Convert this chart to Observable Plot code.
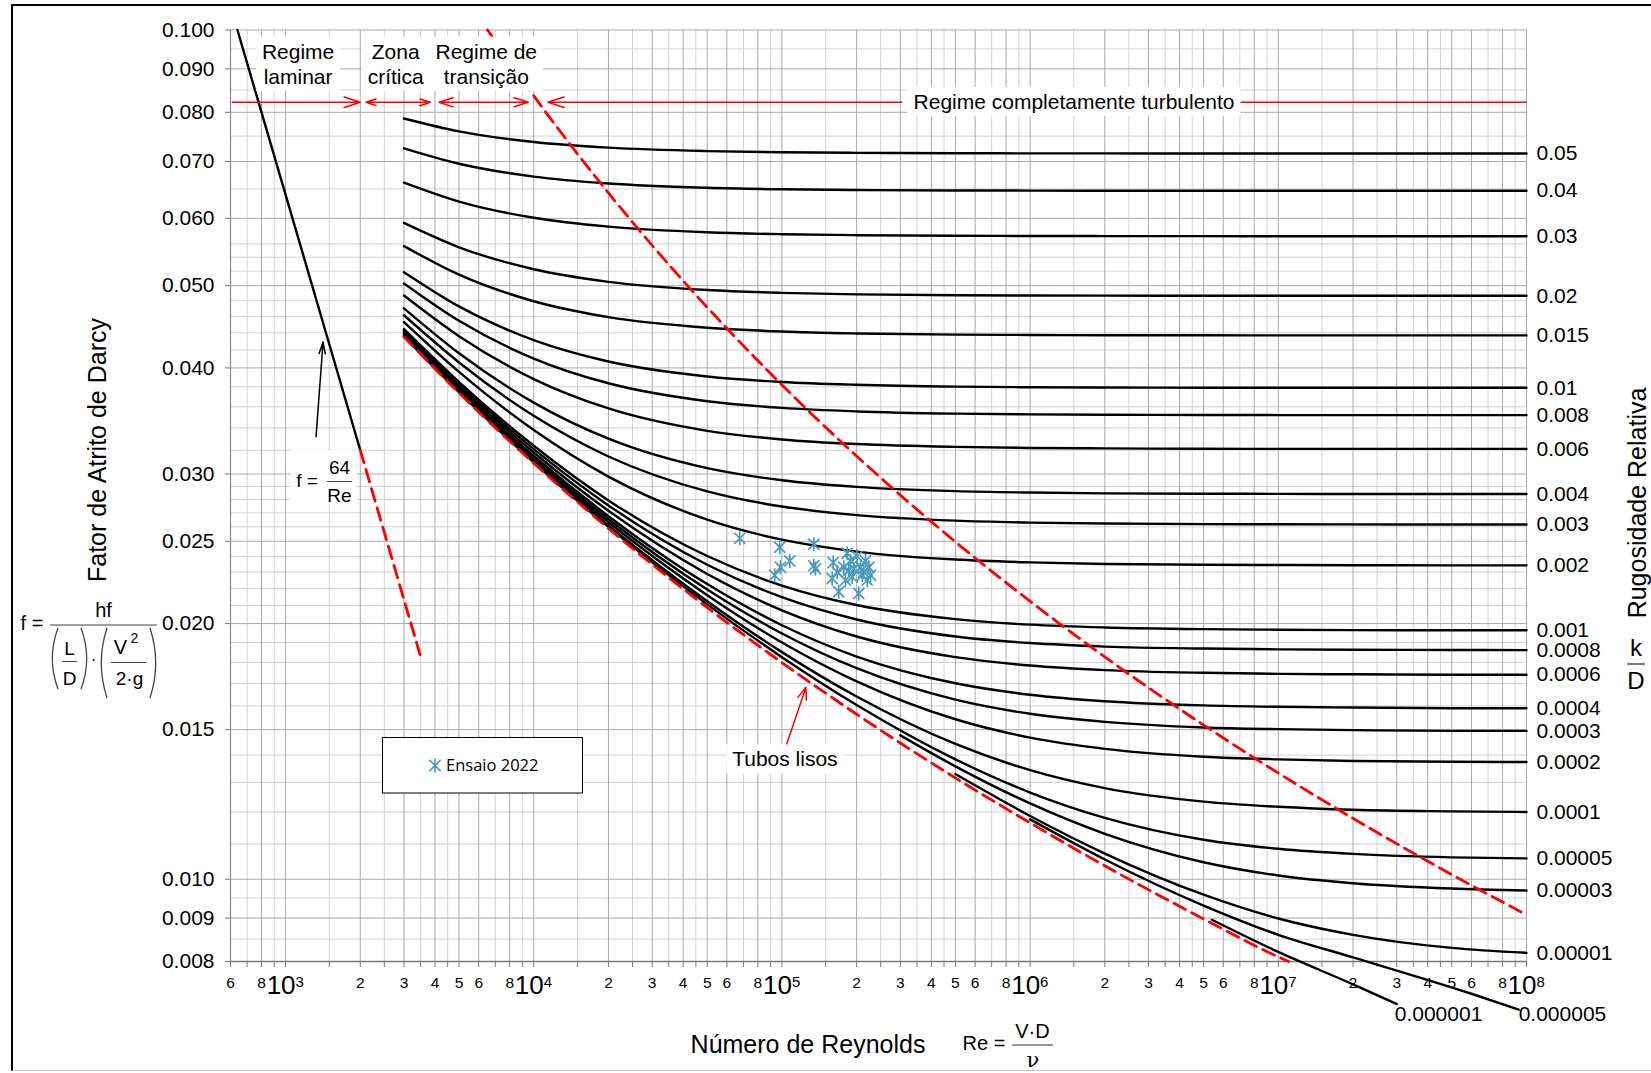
<!DOCTYPE html>
<html><head><meta charset="utf-8">
<script src="https://cdn.jsdelivr.net/npm/d3@7"></script>
<script src="https://cdn.jsdelivr.net/npm/@observablehq/plot@0.6"></script>
<style>
html,body{margin:0;padding:0;background:#fff;}
body{width:1651px;height:1073px;position:relative;overflow:hidden;font-family:'Liberation Sans',Arial,sans-serif;}
#frame{position:absolute;left:11px;top:4px;width:1680px;height:1067px;border-left:2.5px solid #000;border-top:2px solid #000;border-bottom:1.5px solid #c8c8c8;box-sizing:border-box;}
#chart{position:absolute;left:0;top:0;}
</style></head><body>
<div id="frame"></div>
<div id="chart"></div>
<script>
// ---------------- DATA ----------------
const reGrid = [3e3, 5e3, 1e4, 2e4, 5e4, 1e5, 2e5, 5e5, 1e6, 2e6, 5e6, 1e7, 2e7, 5e7, 1e8];

const f_k005    = [0.07866,0.07596,0.07381,0.07269,0.07201,0.07178,0.07167,0.07160,0.07157,0.07156,0.07155,0.07155,0.07155,0.07155,0.07155];
const f_k004    = [0.07255,0.06959,0.06720,0.06595,0.06519,0.06493,0.06480,0.06472,0.06470,0.06468,0.06467,0.06467,0.06467,0.06467,0.06467];
const f_k003    = [0.06611,0.06280,0.06010,0.05867,0.05778,0.05748,0.05733,0.05724,0.05721,0.05719,0.05718,0.05717,0.05717,0.05717,0.05717];
const f_k002    = [0.05927,0.05548,0.05227,0.05052,0.04941,0.04903,0.04883,0.04872,0.04868,0.04866,0.04865,0.04864,0.04864,0.04864,0.04864];
const f_k0015   = [0.05566,0.05151,0.04793,0.04591,0.04461,0.04415,0.04392,0.04378,0.04374,0.04371,0.04370,0.04369,0.04369,0.04369,0.04369];
const f_k001    = [0.05186,0.04726,0.04313,0.04070,0.03908,0.03850,0.03821,0.03802,0.03796,0.03793,0.03791,0.03790,0.03790,0.03790,0.03790];
const f_k0008   = [0.05029,0.04545,0.04103,0.03837,0.03655,0.03589,0.03555,0.03534,0.03527,0.03523,0.03521,0.03520,0.03520,0.03520,0.03520];
const f_k0006   = [0.04868,0.04360,0.03881,0.03584,0.03373,0.03295,0.03254,0.03229,0.03220,0.03216,0.03213,0.03212,0.03212,0.03212,0.03212];
const f_k0004   = [0.04701,0.04162,0.03641,0.03302,0.03048,0.02950,0.02897,0.02864,0.02853,0.02847,0.02844,0.02843,0.02842,0.02842,0.02842];
const f_k0003   = [0.04614,0.04060,0.03513,0.03146,0.02862,0.02747,0.02684,0.02644,0.02630,0.02623,0.02619,0.02618,0.02617,0.02616,0.02616];
const f_k0002   = [0.04529,0.03957,0.03380,0.02979,0.02651,0.02511,0.02431,0.02379,0.02361,0.02351,0.02346,0.02344,0.02343,0.02342,0.02342];
const f_k0001   = [0.04443,0.03850,0.03239,0.02793,0.02402,0.02217,0.02103,0.02024,0.01994,0.01979,0.01970,0.01967,0.01965,0.01964,0.01964];
const f_k00008  = [0.04425,0.03827,0.03209,0.02755,0.02346,0.02148,0.02022,0.01931,0.01897,0.01879,0.01869,0.01865,0.01863,0.01862,0.01861];
const f_k00006  = [0.04408,0.03807,0.03180,0.02715,0.02288,0.02073,0.01931,0.01826,0.01785,0.01763,0.01750,0.01745,0.01743,0.01741,0.01741];
const f_k00004  = [0.04390,0.03784,0.03150,0.02676,0.02226,0.01991,0.01829,0.01701,0.01649,0.01620,0.01602,0.01596,0.01593,0.01590,0.01590];
const f_k00003  = [0.04379,0.03773,0.03135,0.02654,0.02193,0.01947,0.01772,0.01627,0.01566,0.01532,0.01509,0.01502,0.01498,0.01495,0.01495];
const f_k00002  = [0.04370,0.03761,0.03119,0.02632,0.02160,0.01900,0.01710,0.01543,0.01468,0.01424,0.01394,0.01384,0.01378,0.01375,0.01374];
const f_k00001  = [0.04361,0.03751,0.03104,0.02610,0.02125,0.01851,0.01641,0.01443,0.01344,0.01280,0.01234,0.01217,0.01207,0.01202,0.01200];
const f_k000005 = [0.04356,0.03745,0.03096,0.02599,0.02107,0.01826,0.01604,0.01384,0.01265,0.01181,0.01113,0.01086,0.01071,0.01061,0.01058];

const roughLabels = ["0.05","0.04","0.03","0.02","0.015","0.01","0.008","0.006","0.004","0.003","0.002","0.001","0.0008","0.0006","0.0004","0.0003","0.0002","0.0001","0.00005"];
const roughSeries = [f_k005,f_k004,f_k003,f_k002,f_k0015,f_k001,f_k0008,f_k0006,f_k0004,f_k0003,f_k0002,f_k0001,f_k00008,f_k00006,f_k00004,f_k00003,f_k00002,f_k00001,f_k000005];

// curves that only appear once they leave the smooth-pipe line
const re_k000003  = [3e5,5e5,1e6,2e6,5e6,1e7,2e7,5e7,1e8];
const f_k000003   = [0.01477,0.01358,0.01228,0.01131,0.01047,0.01010,0.00989,0.00975,0.00970];
const re_k000001  = [5e5,1e6,2e6,5e6,1e7,2e7,5e7,1e8];
const f_k000001   = [0.01330,0.01187,0.01072,0.00959,0.00899,0.00860,0.00830,0.00819];
const re_k0000005 = [1e6,2e6,5e6,1e7,2e7,6e7,9.3e7];
const f_k0000005  = [0.01176,0.01055,0.00931,0.00860,0.00809,0.00733,0.00702];
const re_k0000001 = [5.4e6,1e7,2e7,3e7];
const f_k0000001  = [0.00896,0.00821,0.00752,0.00713];

// smooth pipes (red dashed)
const reSmooth = [3e3,5e3,1e4,2e4,5e4,1e5,2e5,5e5,1e6,2e6,5e6,1e7,1.1e7];
const fSmooth  = [0.04351,0.03738,0.03089,0.02589,0.02089,0.01799,0.01564,0.01316,0.01165,0.01037,0.00898,0.00810,0.00800];

// laminar f = 64/Re
const reLaminar = [640, 2000];
const fLaminar  = [0.1, 0.032];
const reLaminarExt = [2000, 3500];
const fLaminarExt  = [0.032, 0.01829];

// complete turbulence boundary (red dashed)
const reBoundary = [6516,11190,15860,24280,41630,85470,240400,496800,1312000,5336000,18100000,54050000,100000000];
const fBoundary  = [0.1,0.08,0.07,0.06,0.05,0.04,0.03,0.025,0.02,0.015,0.012,0.01,0.00908];

// test points "Ensaio 2022"
const ensaioRe = [67600,98000,98600,93500,107500,134400,134400,136500,160900,183200,201000,159400,167000,177500,186000,194800,207300,213700,223900,220600,169400,204000,191900,210600,180300,188900,217200,227500];
const ensaioF  = [0.0252,0.0246,0.0233,0.0228,0.0237,0.0248,0.0234,0.0232,0.0236,0.0242,0.0240,0.0226,0.0230,0.0233,0.0231,0.0232,0.0233,0.0230,0.0233,0.0225,0.0218,0.0217,0.0227,0.0228,0.0225,0.0237,0.0237,0.0228];

// regime arrows
const regimeArrowFrom = [610, 2825, 2825, 6280, 6280, 304000];
const regimeArrowTo   = [2000, 2110, 3830, 4150, 9500, 11400];
const regimeLineRe    = [6.65e6, 1e8];
const regimeArrowF    = 0.0822;
const regimeText   = ["Regime\nlaminar", "Zona\ncrítica", "Regime de\ntransição"];
const regimeTextRe = [1123, 2777, 6436];
const regimeTextF  = 0.0914;

// pointers
const lamPointerRe = [1327, 1416];
const lamPointerF  = [0.0332, 0.0429];
const smoothPointerRe = [1.043e5, 1.25e5];
const smoothPointerF  = [0.0144, 0.01683];

// axes
const yMajor = [0.008,0.009,0.010,0.015,0.020,0.025,0.030,0.040,0.050,0.060,0.070,0.080,0.090,0.100];
const yMinor = [0.0085,0.0095,0.011,0.012,0.013,0.014,0.016,0.017,0.018,0.019,0.021,0.022,0.023,0.024,0.026,0.027,0.028,0.029,0.032,0.034,0.036,0.038,0.042,0.044,0.046,0.048,0.052,0.054,0.056,0.065,0.075,0.085,0.095];
const decadeBases = [100, 1e3, 1e4, 1e5, 1e6, 1e7, 1e8];
const gridMultDark  = [1,2,3,4,5,6,8];
const gridMultLight = [1.5,2.5,3.5,4.5,7,9];
const tickDigits = ["2","3","4","5","6","8"];
const decadeExp = ["3","4","5","6","7","8"];

// ---------------- BUILD ----------------
const inDom = v => v >= 599.9 && v <= 1.0001e8;
const xGridDark = decadeBases.flatMap(b => gridMultDark.map(m => m*b)).filter(inDom);
const xGridLight = decadeBases.flatMap(b => gridMultLight.map(m => m*b)).filter(inDom);
const xGridAll = [...xGridDark, ...xGridLight].sort((a,b)=>a-b);
const xSmallTicks = decadeBases.flatMap(b => tickDigits.map(t => ({v: +t*b, t}))).filter(d => inDom(d.v));
const xDecades = decadeExp.map(e => ({v: Math.pow(10, +e), e}));

const series = (k, xs, ys) => xs.map((re, j) => ({k, re, f: ys[j]}));
const curveRows = roughLabels.flatMap((k, i) => series(k, reGrid, roughSeries[i]))
  .concat(series("0.00003", re_k000003, f_k000003))
  .concat(series("0.00001", re_k000001, f_k000001))
  .concat(series("0.000005", re_k0000005, f_k0000005))
  .concat(series("0.000001", re_k0000001, f_k0000001));
const rightLabels = roughLabels.map((k, i) => ({k, re: 1e8, f: roughSeries[i].at(-1)}))
  .concat([{k: "0.00003", re: 1e8, f: f_k000003.at(-1)}, {k: "0.00001", re: 1e8, f: f_k000001.at(-1)}]);
const lowLabels = [
  {k: "0.000005", re: re_k0000005.at(-1), f: f_k0000005.at(-1)},
  {k: "0.000001", re: re_k0000001.at(-1), f: f_k0000001.at(-1)}
];
const rows = (xs, ys) => xs.map((re, i) => ({re, f: ys[i]}));
const ensaioRows = rows(ensaioRe, ensaioF);

const asteriskSym = {draw(ctx, size) {
  const r = Math.sqrt(size / Math.PI), d = r * 0.8;
  ctx.moveTo(0, -r); ctx.lineTo(0, r);
  ctx.moveTo(-d, -d); ctx.lineTo(d, d);
  ctx.moveTo(-d, d); ctx.lineTo(d, -d);
}};
const RED = "#ff0000", BLUE = "#4a9bbb";
const fmt3 = d3.format(".3f");

const plot = Plot.plot({
  width: 1651, height: 1073,
  marginLeft: 230, marginRight: 125, marginTop: 29.5, marginBottom: 112,
  style: {fontFamily: "'Liberation Sans', Arial, sans-serif", fontSize: "21px", color: "#000", background: "transparent", overflow: "visible"},
  x: {type: "log", domain: [600, 1e8], ticks: xGridAll, tickFormat: () => "", tickSize: 6, label: null},
  y: {type: "log", domain: [0.008, 0.1], ticks: yMajor, tickFormat: () => "", tickSize: 5, label: null},
  marks: [
    Plot.ruleX(xGridLight, {stroke: "#d2d2d2", strokeWidth: 1}),
    Plot.ruleY(yMinor, {stroke: "#d2d2d2", strokeWidth: 1}),
    Plot.ruleX(xGridDark, {stroke: "#a9a9a9", strokeWidth: 1}),
    Plot.ruleY(yMajor, {stroke: "#a9a9a9", strokeWidth: 1}),
    Plot.ruleY([0.008], {stroke: "#7a7a7a", strokeWidth: 1.6}),
    Plot.ruleX([600], {stroke: "#8a8a8a", strokeWidth: 1.2}),
    Plot.line(curveRows, {x: "re", y: "f", z: "k", stroke: "#000", strokeWidth: 2.4, curve: "monotone-x"}),
    Plot.line(rows(reLaminar, fLaminar), {x: "re", y: "f", stroke: "#000", strokeWidth: 2.4}),
    Plot.line(rows(reLaminarExt, fLaminarExt), {x: "re", y: "f", stroke: RED, strokeWidth: 2.8, strokeDasharray: "13,7"}),
    Plot.line(rows(reSmooth, fSmooth), {x: "re", y: "f", stroke: RED, strokeWidth: 2.8, strokeDasharray: "13,7", curve: "monotone-x"}),
    Plot.line(rows(reBoundary, fBoundary), {x: "re", y: "f", stroke: RED, strokeWidth: 2.8, strokeDasharray: "13,7", curve: "monotone-x"}),
    Plot.arrow(d3.range(regimeArrowFrom.length), {x1: i => regimeArrowFrom[i], x2: i => regimeArrowTo[i], y1: () => regimeArrowF, y2: () => regimeArrowF, stroke: RED, strokeWidth: 1.5, headLength: 17, headAngle: 36}),
    Plot.link([0], {x1: () => regimeLineRe[0], x2: () => regimeLineRe[1], y1: () => regimeArrowF, y2: () => regimeArrowF, stroke: RED, strokeWidth: 1.5}),
    Plot.arrow([0], {x1: () => lamPointerRe[0], y1: () => lamPointerF[0], x2: () => lamPointerRe[1], y2: () => lamPointerF[1], stroke: "#000", strokeWidth: 1.5, headLength: 12, headAngle: 30}),
    Plot.arrow([0], {x1: () => smoothPointerRe[0], y1: () => smoothPointerF[0], x2: () => smoothPointerRe[1], y2: () => smoothPointerF[1], stroke: RED, strokeWidth: 1.5, headLength: 13, headAngle: 40}),
    Plot.text(regimeText, {x: (d, i) => regimeTextRe[i], y: () => regimeTextF, text: d => d, fontSize: 21, lineHeight: 1.2}),
    Plot.text(["Regime completamente turbulento"], {x: () => 1.503e6, y: () => regimeArrowF, text: d => d, fontSize: 21}),
    Plot.text(["Tubos lisos"], {x: () => 1.028e5, y: () => 0.01383, text: d => d, fontSize: 21}),
    Plot.text(yMajor, {y: d => d, text: d => fmt3(d), frameAnchor: "left", dx: -16, textAnchor: "end", fontSize: 21}),
    Plot.text(rightLabels, {x: "re", y: "f", text: "k", textAnchor: "start", dx: 10, fontSize: 21}),
    Plot.text(lowLabels.slice(0,1), {x: "re", y: "f", text: "k", textAnchor: "start", dx: 0, dy: 5, fontSize: 21}),
    Plot.text(lowLabels.slice(1), {x: "re", y: "f", text: "k", textAnchor: "start", dx: -2, dy: 10, fontSize: 21}),
    Plot.text(xSmallTicks, {x: "v", text: "t", frameAnchor: "bottom", dy: 26, fontSize: 15.5}),
    Plot.text(xDecades, {x: "v", text: () => "10", frameAnchor: "bottom", dy: 32, dx: 10, textAnchor: "end", fontSize: 26}),
    Plot.text(xDecades, {x: "v", text: "e", frameAnchor: "bottom", dy: 25, dx: 10, textAnchor: "start", fontSize: 15}),
    Plot.dot(ensaioRows, {x: "re", y: "f", symbol: asteriskSym, r: 7, stroke: BLUE, fill: "none", strokeWidth: 1.7})
  ]
});
document.getElementById("chart").appendChild(plot);

// white boxes behind annotation texts
const svg = d3.select(plot);
const boxedStrings = new Set([...regimeText.map(s => s.replace(/\n/g, "")), "Regime completamente turbulento", "Tubos lisos"]);
svg.selectAll("text").filter(function() { return boxedStrings.has(this.textContent.replace(/\n/g, "")); }).each(function() {
  const bb = this.getBBox();
  const node = this;
  const r = d3.select(this.parentNode).insert("rect", () => node)
    .attr("x", bb.x - 6).attr("y", bb.y - 3).attr("width", bb.width + 12).attr("height", bb.height + 6)
    .attr("fill", "#fff").attr("stroke", "none");
  const tr = this.getAttribute("transform");
  if (tr) r.attr("transform", tr);
});
svg.selectAll('g[aria-label^="x-axis"] path, g[aria-label^="y-axis"] path, .tick line').attr("stroke", "#7a7a7a");

// ---------------- OVERLAY (titles, formulas, legend) ----------------
const g = svg.append("g").attr("font-family", "'Liberation Sans', Arial, sans-serif").attr("fill", "#000");
function T(x, y, s, size, anchor = "middle", rot = 0, family) {
  const t = g.append("text").attr("text-anchor", anchor).attr("dy", "0.35em").attr("font-size", size)
    .attr("transform", `translate(${x},${y})` + (rot ? ` rotate(${rot})` : "")).text(s);
  if (family) t.attr("font-family", family);
  return t;
}
function L(x1, y1, x2, y2, w = 1, c = "#333") {
  g.append("line").attr("x1", x1).attr("y1", y1).attr("x2", x2).attr("y2", y2).attr("stroke", c).attr("stroke-width", w);
}
function paren(x, top, bottom, dir) { // dir=1 "(" ; dir=-1 ")"
  const mid = (top + bottom) / 2, w = 6;
  g.append("path").attr("d", `M${x + dir * w},${top} Q${x - dir * w * 0.9},${mid} ${x + dir * w},${bottom}`)
    .attr("fill", "none").attr("stroke", "#444").attr("stroke-width", 1.3);
}

// axis titles
T(97.5, 450, "Fator de Atrito de Darcy", 25, "middle", -90);
T(808, 1044, "Número de Reynolds", 25);
T(1637, 503, "Rugosidade Relativa", 25, "middle", -90);
// k/D
T(1636, 648, "k", 24);
L(1627, 664, 1645, 664, 1.2, "#222");
T(1636, 681, "D", 24);

// Re = V·D / ν
T(984, 1043, "Re =", 20);
T(1032.5, 1031, "V·D", 20);
L(1012, 1045, 1053, 1045, 1, "#333");
T(1033, 1060, "ν", 21, "middle", 0, "'DejaVu Serif', serif");

// f = hf / ((L/D)·(V²/(2·g)))
T(32, 623, "f =", 20);
T(103.5, 610, "hf", 20);
L(50, 625, 157, 625, 1, "#444");
paren(52, 628, 689, 1);
T(69.6, 648, "L", 19);
L(62.5, 661.5, 77, 661.5, 1, "#444");
T(69.6, 678, "D", 19);
paren(87, 628, 689, -1);
T(93.6, 659, "·", 16);
paren(101, 628, 698, 1);
T(120.5, 647, "V", 20);
T(134.5, 638, "2", 14);
L(110.7, 662.5, 146.4, 662.5, 1, "#444");
T(129.5, 678, "2·g", 19);
paren(156, 628, 698, -1);

// f = 64/Re box
g.append("rect").attr("x", 291).attr("y", 450).attr("width", 66).attr("height", 54).attr("fill", "#fff");
T(307, 480, "f =", 19);
T(339.5, 467, "64", 19);
L(327, 481.5, 352, 481.5, 1, "#444");
T(339.5, 495.5, "Re", 19);

// legend
g.append("rect").attr("x", 382.5).attr("y", 737.5).attr("width", 200).attr("height", 55.5)
  .attr("fill", "#fff").attr("stroke", "#000").attr("stroke-width", 1);
const p = d3.path(); asteriskSym.draw(p, Math.PI * 49);
g.append("path").attr("d", p.toString()).attr("transform", "translate(435,765.5)")
  .attr("fill", "none").attr("stroke", BLUE).attr("stroke-width", 1.6);
T(446, 765.5, "Ensaio 2022", 16.5, "start", 0, "'Open Sans', Lato, sans-serif");
</script></body></html>
